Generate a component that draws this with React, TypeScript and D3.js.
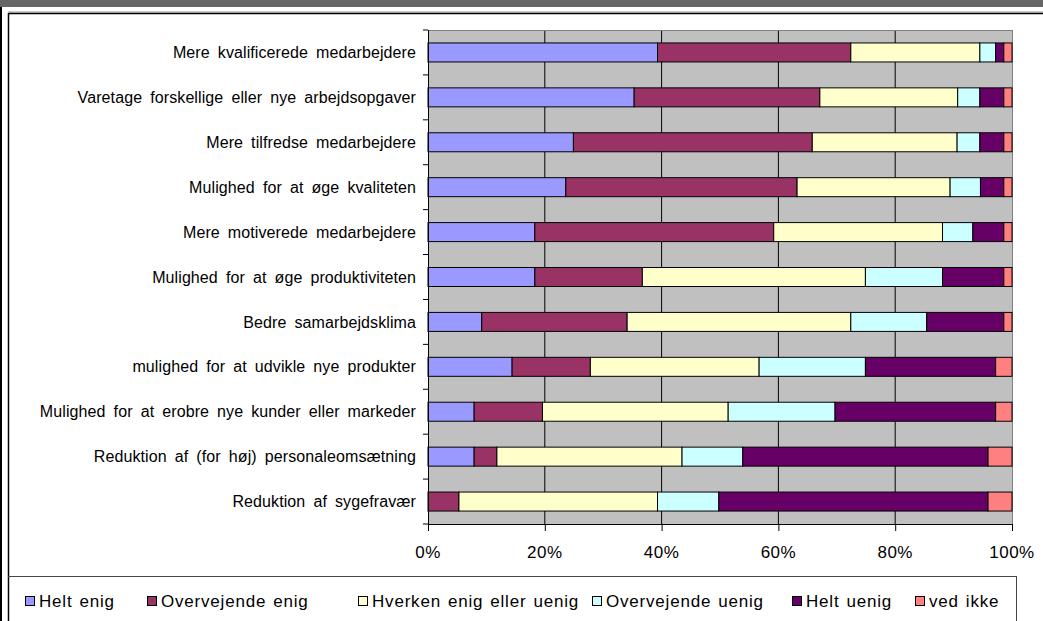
import React from "react";
import * as d3 from "d3";

const categories = [
  "Mere kvalificerede medarbejdere",
  "Varetage forskellige eller nye arbejdsopgaver",
  "Mere tilfredse medarbejdere",
  "Mulighed for at øge kvaliteten",
  "Mere motiverede medarbejdere",
  "Mulighed for at øge produktiviteten",
  "Bedre samarbejdsklima",
  "mulighed for at udvikle nye produkter",
  "Mulighed for at erobre nye kunder eller markeder",
  "Reduktion af (for høj) personaleomsætning",
  "Reduktion af sygefravær",
];

const seriesNames = [
  "Helt enig",
  "Overvejende enig",
  "Hverken enig eller uenig",
  "Overvejende uenig",
  "Helt uenig",
  "ved ikke",
];

const heltEnig = [39.3, 35.3, 24.9, 23.6, 18.3, 18.3, 9.2, 14.4, 7.9, 7.9, 0];
const overvejendeEnig = [33.1, 31.8, 40.9, 39.6, 40.9, 18.4, 24.9, 13.4, 11.7, 3.9, 5.3];
const hverken = [22.1, 23.6, 24.8, 26.2, 28.9, 38.2, 38.3, 28.9, 31.8, 31.7, 34.0];
const overvejendeUenig = [2.7, 3.8, 3.9, 5.2, 5.2, 13.2, 13.0, 18.2, 18.3, 10.4, 10.5];
const heltUenig = [1.4, 4.1, 4.1, 4.0, 5.3, 10.5, 13.2, 22.3, 27.5, 42.0, 46.1];
const vedIkke = [1.4, 1.4, 1.4, 1.4, 1.4, 1.4, 1.4, 2.8, 2.8, 4.1, 4.1];

const xTicks = [0, 20, 40, 60, 80, 100];
const colors = ["#9999FF", "#993366", "#FFFFCC", "#CCFFFF", "#660066", "#FF8080"];
const legendX = [25, 147, 358, 592, 792, 915];

export default function App() {
  const W = 1043;
  const H = 621;
  const left = 428;
  const right = 1012;
  const top = 30;
  const bottom = 524;

  const x = d3.scaleLinear().domain([0, 100]).range([left, right]);
  const y = d3
    .scaleBand<string>()
    .domain(categories)
    .range([top, bottom])
    .paddingInner(0.577)
    .paddingOuter(0.2885);

  const rows = categories.map((c, i) => {
    const o: any = { cat: c };
    o[seriesNames[0]] = heltEnig[i];
    o[seriesNames[1]] = overvejendeEnig[i];
    o[seriesNames[2]] = hverken[i];
    o[seriesNames[3]] = overvejendeUenig[i];
    o[seriesNames[4]] = heltUenig[i];
    o[seriesNames[5]] = vedIkke[i];
    return o;
  });
  rows.forEach((r) => {
    const tot = seriesNames.reduce((s, k) => s + r[k], 0);
    seriesNames.forEach((k) => (r[k] = (r[k] / tot) * 100));
  });
  const stacked = d3.stack<any>().keys(seriesNames)(rows);

  const step = y.step();
  const boundaries = d3.range(categories.length + 1).map((i) => top + i * step);

  const font = "'Liberation Sans', Arial, sans-serif";

  return (
    <div style={{ position: "absolute", left: 0, top: 0 }}>
      <svg width={W} height={H} style={{ display: "block", background: "#fff" }}>
        {/* frame */}
        <rect x={0} y={0} width={W} height={7} fill="#666666" />
        <line x1={1} y1={7} x2={1} y2={H} stroke="#000" strokeWidth={2} />
        <line x1={8} y1={12} x2={W} y2={12} stroke="#999" strokeWidth={1} />
        <line x1={8.5} y1={13.5} x2={W} y2={13.5} stroke="#000" strokeWidth={1.5} />
        <line x1={8.5} y1={13} x2={8.5} y2={H} stroke="#000" strokeWidth={1.5} />

        {/* plot background */}
        <rect x={left} y={top} width={right - left} height={bottom - top} fill="#C0C0C0" />
        {xTicks.slice(1, -1).map((t) => (
          <line key={t} x1={x(t)} x2={x(t)} y1={top} y2={bottom} stroke="#000" strokeWidth={1} />
        ))}
        <line x1={left} x2={right} y1={top + 0.5} y2={top + 0.5} stroke="#808080" strokeWidth={1} />
        <line x1={right + 0.5} x2={right + 0.5} y1={top} y2={bottom} stroke="#808080" strokeWidth={1} />

        {/* bars */}
        {stacked.map((s, si) =>
          s.map((d, i) => {
            const w = x(d[1]) - x(d[0]);
            if (w <= 0.01) return null;
            return (
              <rect
                key={si + "-" + i}
                x={x(d[0])}
                y={y(categories[i])}
                width={w}
                height={y.bandwidth()}
                fill={colors[si]}
                stroke="#000"
                strokeWidth={1}
              />
            );
          })
        )}

        {/* axes */}
        <line x1={left + 0.5} x2={left + 0.5} y1={top} y2={bottom} stroke="#000" strokeWidth={1} />
        {boundaries.map((b, i) => (
          <line key={i} x1={423} x2={left} y1={b} y2={b} stroke="#000" strokeWidth={1} />
        ))}
        <line x1={left} x2={right + 1} y1={bottom + 0.5} y2={bottom + 0.5} stroke="#000" strokeWidth={1} />
        {xTicks.map((t) => (
          <line key={t} x1={x(t) + 0.5} x2={x(t) + 0.5} y1={bottom} y2={bottom + 7} stroke="#000" strokeWidth={1} />
        ))}
        {xTicks.map((t) => (
          <text
            key={t}
            x={x(t)}
            y={558}
            textAnchor="middle"
            fontFamily={font}
            fontSize={17}
            letterSpacing={0.5}
            fill="#000"
          >
            {t + "%"}
          </text>
        ))}
        {categories.map((c) => (
          <text
            key={c}
            x={416}
            y={(y(c) as number) + y.bandwidth() / 2}
            dy="0.35em"
            textAnchor="end"
            fontFamily={font}
            fontSize={16}
            letterSpacing={0.1}
            wordSpacing={3.5}
            fill="#000"
          >
            {c}
          </text>
        ))}

        {/* legend */}
        <line x1={8} x2={1016.5} y1={576.5} y2={576.5} stroke="#444" strokeWidth={1} />
        <line x1={1016.5} x2={1016.5} y1={576} y2={H} stroke="#444" strokeWidth={1} />
        {seriesNames.map((n, i) => (
          <g key={n}>
            <rect x={legendX[i] + 0.5} y={596.5} width={9} height={9} fill={colors[i]} stroke="#000" strokeWidth={1} />
            <text
              x={legendX[i] + 14}
              y={607}
              fontFamily={font}
              fontSize={17}
              letterSpacing={0.8}
              wordSpacing={1.5}
              fill="#000"
            >
              {n}
            </text>
          </g>
        ))}
      </svg>
    </div>
  );
}
